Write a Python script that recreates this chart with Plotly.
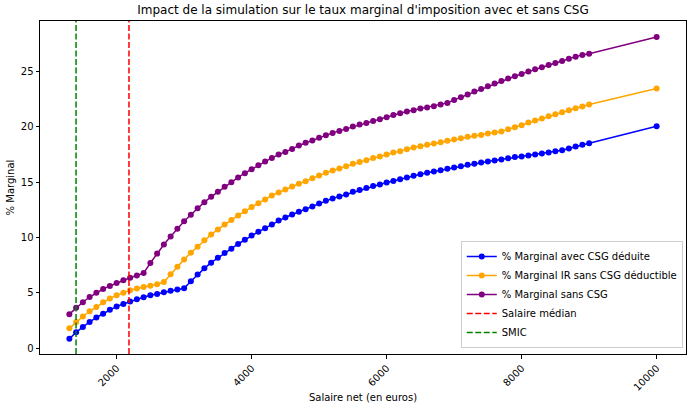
import plotly.graph_objects as go

# salaire net (euros)
salaires = [1300, 1400, 1500, 1600, 1700, 1800, 1900, 2000, 2100, 2200,
            2300, 2400, 2500, 2600, 2700, 2800, 2900, 3000, 3100, 3200,
            3300, 3400, 3500, 3600, 3700, 3800, 3900, 4000, 4100, 4200,
            4300, 4400, 4500, 4600, 4700, 4800, 4900, 5000, 5100, 5200,
            5300, 5400, 5500, 5600, 5700, 5800, 5900, 6000, 6100, 6200,
            6300, 6400, 6500, 6600, 6700, 6800, 6900, 7000, 7100, 7200,
            7300, 7400, 7500, 7600, 7700, 7800, 7900, 8000, 8100, 8200,
            8300, 8400, 8500, 8600, 8700, 8800, 8900, 9000, 10000]

marginal_csg_deduite = [0.85, 1.44, 1.93, 2.37, 2.78, 3.12, 3.48, 3.78, 4.0, 4.22,
                        4.42, 4.6, 4.78, 4.91, 5.06, 5.19, 5.3, 5.42, 6.05, 6.66,
                        7.22, 7.73, 8.18, 8.6, 9.0, 9.42, 9.8, 10.18, 10.52, 10.85,
                        11.18, 11.55, 11.82, 12.09, 12.33, 12.57, 12.81, 13.09, 13.32, 13.54,
                        13.72, 13.9, 14.13, 14.29, 14.47, 14.65, 14.8, 14.98, 15.12, 15.28,
                        15.43, 15.58, 15.73, 15.85, 15.97, 16.09, 16.21, 16.34, 16.45, 16.57,
                        16.66, 16.79, 16.88, 16.97, 17.06, 17.16, 17.27, 17.33, 17.42, 17.51,
                        17.6, 17.69, 17.81, 17.9, 18.05, 18.23, 18.38, 18.53, 20.06]

marginal_ir_sans_csg = [1.8, 2.37, 2.87, 3.34, 3.72, 4.15, 4.5, 4.78, 5.02, 5.23,
                        5.4, 5.53, 5.64, 5.78, 5.98, 6.68, 7.37, 8.03, 8.63, 9.18,
                        9.76, 10.27, 10.74, 11.19, 11.58, 12.0, 12.39, 12.76, 13.11, 13.45,
                        13.81, 14.07, 14.35, 14.62, 14.86, 15.1, 15.37, 15.61, 15.85, 16.06,
                        16.25, 16.45, 16.66, 16.84, 16.99, 17.18, 17.33, 17.51, 17.68, 17.81,
                        17.99, 18.14, 18.26, 18.38, 18.5, 18.62, 18.74, 18.86, 18.98, 19.1,
                        19.19, 19.28, 19.4, 19.49, 19.58, 19.78, 19.97, 20.15, 20.4, 20.58,
                        20.76, 20.97, 21.15, 21.33, 21.51, 21.69, 21.84, 22.02, 23.47]

marginal_sans_csg = [3.08, 3.66, 4.16, 4.63, 5.02, 5.35, 5.63, 5.89, 6.15, 6.37,
                     6.57, 6.79, 7.7, 8.55, 9.37, 10.1, 10.8, 11.47, 12.07, 12.64,
                     13.2, 13.68, 14.13, 14.59, 15.01, 15.43, 15.82, 16.18, 16.54, 16.87,
                     17.2, 17.5, 17.74, 18.01, 18.32, 18.56, 18.77, 19.01, 19.25, 19.46,
                     19.64, 19.82, 20.04, 20.22, 20.36, 20.54, 20.7, 20.88, 21.07, 21.24,
                     21.39, 21.51, 21.66, 21.75, 21.87, 22.02, 22.17, 22.44, 22.68, 22.92,
                     23.19, 23.43, 23.67, 23.92, 24.15, 24.38, 24.58, 24.79, 25.0, 25.21,
                     25.39, 25.6, 25.78, 25.96, 26.17, 26.35, 26.5, 26.62, 28.12]

salaire_median = 2183
smic = 1399

x_ticks = [2000, 4000, 6000, 8000, 10000]
y_ticks = [0, 5, 10, 15, 20, 25]

series = [
    ("% Marginal avec CSG déduite", marginal_csg_deduite, "#0000ff"),
    ("% Marginal IR sans CSG déductible", marginal_ir_sans_csg, "#ffa500"),
    ("% Marginal sans CSG", marginal_sans_csg, "#800080"),
]

fig = go.Figure()

for name, values, color in series:
    fig.add_trace(go.Scatter(
        x=salaires, y=values, name=name,
        mode="lines+markers",
        line=dict(color=color, width=1.5),
        marker=dict(color=color, size=6),
    ))

# vertical reference lines (shown in legend)
fig.add_vline(x=salaire_median, line=dict(color="#ff0000", width=1.5, dash="6px,2.5px"),
              name="Salaire médian", showlegend=True, legendrank=1001)
fig.add_vline(x=smic, line=dict(color="#008000", width=1.5, dash="6px,2.5px"),
              name="SMIC", showlegend=True, legendrank=1002)

axis_style = dict(
    showline=True, linecolor="black", linewidth=1, mirror=True,
    ticks="outside", ticklen=3.5, tickcolor="black", tickwidth=1,
    showgrid=False, zeroline=False, automargin=False,
    tickfont=dict(size=10, color="black"),
)

fig.update_layout(
    width=690, height=410,
    margin=dict(l=40, r=4, t=21, b=56),
    plot_bgcolor="white", paper_bgcolor="white",
    font=dict(family="DejaVu Sans", size=10, color="black"),
    title=dict(text="Impact de la simulation sur le taux marginal d'imposition avec et sans CSG",
               x=0.5, xref="paper", xanchor="center",
               y=1 - 10 / 410, yref="container", yanchor="middle",
               font=dict(size=12, color="black")),
    xaxis=dict(range=[865, 10435], tickvals=x_ticks, ticktext=[str(t) for t in x_ticks],
               tickangle=-45,
               title=dict(text="Salaire net (en euros)", font=dict(size=10), standoff=2),
               **axis_style),
    yaxis=dict(range=[-0.52, 29.57], tickvals=y_ticks,
               title=dict(text="% Marginal", font=dict(size=10), standoff=4),
               **axis_style),
    legend=dict(x=0.995, y=0.018, xanchor="right", yanchor="bottom",
                bgcolor="rgba(255,255,255,0.8)", bordercolor="#cccccc", borderwidth=1,
                font=dict(size=10), tracegroupgap=0, itemwidth=30),
)

# drop the browser's default page margin so the figure sits at the window corner
fig.write_html("out.html", config={"displayModeBar": False},
               post_script="document.body.style.margin = '0';")
